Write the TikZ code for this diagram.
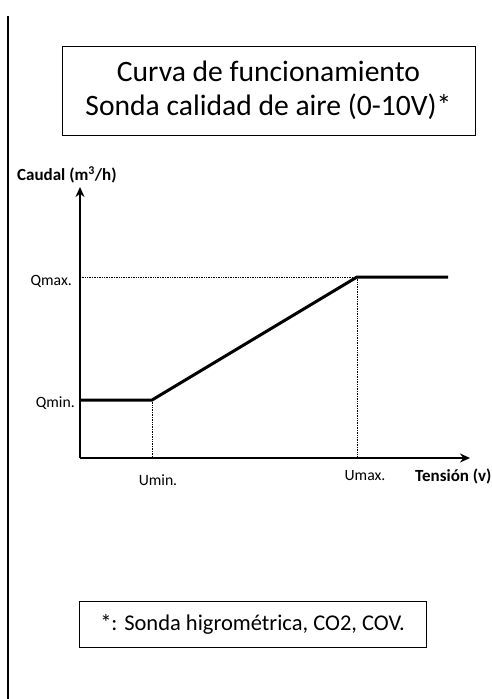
\documentclass[tikz,border=0pt]{standalone}
\usepackage{fontspec}
\setmainfont{Carlito}
\usetikzlibrary{arrows.meta}
\begin{document}
\begin{tikzpicture}[x=1pt,y=-1pt,
  frame/.style={draw,line width=1pt,inner sep=0pt},
  axis/.style={line width=1.8pt,-{Stealth[length=10pt,width=9pt]}},
  curve/.style={line width=3pt},
  guide/.style={densely dotted,line width=0.7pt},
  lab/.style={font=\fontsize{15.7}{18}\selectfont,inner sep=0pt},
  blab/.style={font=\bfseries\fontsize{17}{19}\selectfont,inner sep=0pt}]
\useasboundingbox (0,0) rectangle (492,699);
\coordinate (lt) at (8,16);
\coordinate (lb) at (8,699);
\draw[line width=1.6pt] (lt) -- (lb);
% title box
\node[frame,minimum width=413pt,minimum height=89pt,align=center,
  font=\fontsize{29.6}{34}\selectfont] (title) at (268.5,90.5)
  {Curva de funcionamiento\\Sonda calidad de aire (0-10V)*};
% axes
\coordinate (O) at (80,458);
\coordinate (ytip) at (80,187);
\coordinate (xtip) at (470,458);
\draw[axis] (O) -- (ytip);
\draw[axis] (O) -- (xtip);
% key points
\coordinate (qmin0) at (80,400);
\coordinate (umin) at (152,400);
\coordinate (umax) at (357,277);
\coordinate (qmax0) at (80,277);
\coordinate (qend) at (448,277);
\coordinate (uminb) at (152,458);
\coordinate (umaxb) at (357,458);
\draw[guide] (qmax0) -- (umax);
\draw[guide] (umax) -- (umaxb);
\draw[guide] (umin) -- (uminb);
\draw[curve] (qmin0) -- (umin) -- (umax) -- (qend);
% labels
\node[blab,anchor=west] (caudal) at (17,175) {Caudal (m\textsuperscript{3}/h)};
\node[lab,anchor=east] (qmax) at (72,281) {Qmax.};
\node[lab,anchor=east] (qmin) at (75,403) {Qmin.};
\node[lab] (uminl) at (158,480) {Umin.};
\node[lab] (umaxl) at (365,476) {Umax.};
\node[blab,anchor=west] (tension) at (415,476) {Tensión (v)};
% footnote box
\node[frame,minimum width=347pt,minimum height=46pt,
  font=\fontsize{22.5}{26}\selectfont] (note) at (252.5,624)
  {*: Sonda higrométrica, CO2, COV.};
\end{tikzpicture}
\end{document}
